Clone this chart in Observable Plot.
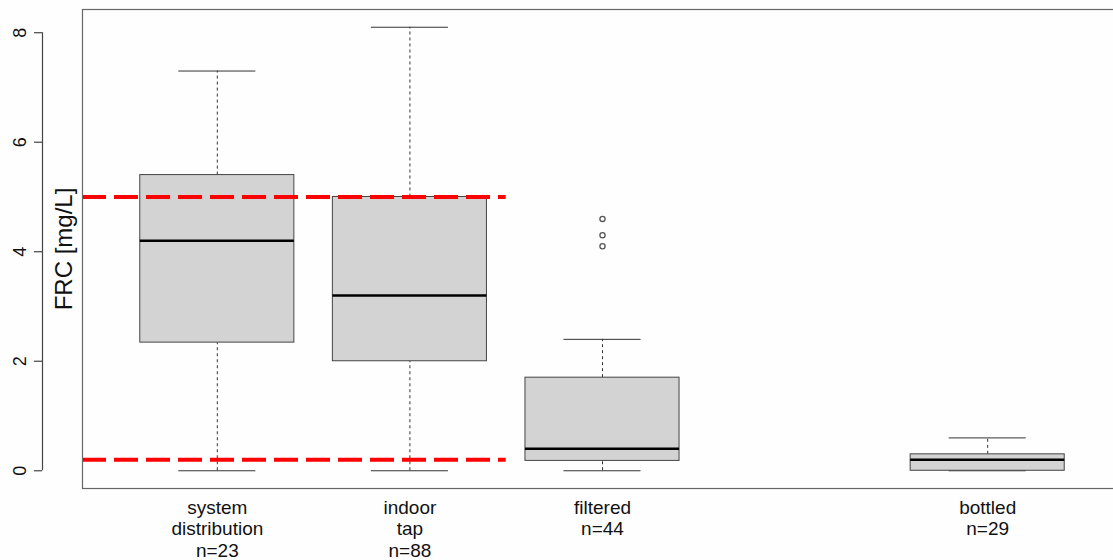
<!DOCTYPE html>
<html>
<head>
<meta charset="utf-8">
<script src="https://cdn.jsdelivr.net/npm/d3@7"></script>
<script src="https://cdn.jsdelivr.net/npm/@observablehq/plot@0.6"></script>
<style>
  html, body { margin: 0; padding: 0; background: #fefefe; }
  #chart svg { display: block; background: #fefefe; }
</style>
</head>
<body>
<div id="chart"></div>
<script>
// ---- data ----
const categories = ["system\ndistribution\nn=23", "indoor\ntap\nn=88", "filtered\nn=44", "bottled\nn=29"];
const positions  = [1, 2, 3, 5];
const whiskerLow  = [0, 0, 0, 0];
const q1          = [2.34, 2.0, 0.18, 0.0];
const median      = [4.2, 3.2, 0.4, 0.2];
const q3          = [5.4, 5.0, 1.7, 0.3];
const whiskerHigh = [7.3, 8.1, 2.4, 0.6];
const outlierPos  = [3, 3, 3];
const outlierVal  = [4.6, 4.3, 4.1];
const limitLines  = [5.0, 0.2];
const limitSpan   = [0.3, 2.5];
const yTicks      = [0, 2, 4, 6, 8];
const yTitle      = "FRC [mg/L]";
const xDomain     = [0.3, 5.7];
const yDomain     = [-0.324, 8.424];

const boxes = categories.map((c, i) => ({
  label: c, x: positions[i], lo: whiskerLow[i], q1: q1[i], med: median[i], q3: q3[i], hi: whiskerHigh[i]
}));
const outliers = outlierPos.map((p, i) => ({x: p, y: outlierVal[i]}));

const boxHalf = 0.4, capHalf = 0.2;

const chart = Plot.plot({
  width: 1113,
  height: 560,
  marginLeft: 82,
  marginRight: -9,
  marginTop: 9,
  marginBottom: 72,
  style: {fontFamily: "'Liberation Sans', Arial, sans-serif", background: "#fefefe", overflow: "hidden"},
  x: {type: "linear", domain: xDomain, axis: null},
  y: {type: "linear", domain: yDomain, axis: null},
  marks: [
    // whiskers (dashed)
    Plot.ruleX(boxes, {x: "x", y1: "q3", y2: "hi", stroke: "#333", strokeWidth: 1, strokeDasharray: "3,3"}),
    Plot.ruleX(boxes, {x: "x", y1: "lo", y2: "q1", stroke: "#333", strokeWidth: 1, strokeDasharray: "3,3"}),
    // caps
    Plot.ruleY(boxes, {y: "hi", x1: d => d.x - capHalf, x2: d => d.x + capHalf, stroke: "#333", strokeWidth: 1}),
    Plot.ruleY(boxes, {y: "lo", x1: d => d.x - capHalf, x2: d => d.x + capHalf, stroke: "#333", strokeWidth: 1}),
    // boxes
    Plot.rect(boxes, {x1: d => d.x - boxHalf, x2: d => d.x + boxHalf, y1: "q1", y2: "q3", fill: "#d3d3d3", stroke: "#444", strokeWidth: 1}),
    // medians
    Plot.ruleY(boxes, {y: "med", x1: d => d.x - boxHalf, x2: d => d.x + boxHalf, stroke: "#000", strokeWidth: 2.5}),
    // outliers
    Plot.dot(outliers, {x: "x", y: "y", r: 2.6, stroke: "#555", strokeWidth: 1.3, fill: "none"}),
    // red limit lines
    Plot.ruleY(limitLines, {y: d => d, x1: limitSpan[0], x2: limitSpan[1], stroke: "#f00", strokeWidth: 4, strokeDasharray: "24,8"}),
    // frame
    Plot.frame({stroke: "#666", strokeWidth: 1.2}),
    // y axis line & ticks (R style, offset left)
    Plot.ruleX([xDomain[0]], {x: d => d, y1: yTicks[0], y2: yTicks[yTicks.length - 1], dx: -40, stroke: "#444", strokeWidth: 1.2}),
    Plot.axisY({ticks: yTicks, tickSize: 8, dx: -40, tickFormat: () => "", label: null, stroke: "#444", strokeWidth: 1.2}),
    Plot.text(yTicks, {y: d => d, frameAnchor: "left", text: d => String(d), rotate: -90, dx: -62.5, textAnchor: "middle", lineAnchor: "middle", fontSize: 18, fill: "#111"}),
    // y title
    Plot.text([yTitle], {frameAnchor: "left", text: d => d, rotate: -90, dx: -18.5, textAnchor: "middle", lineAnchor: "middle", fontSize: 24, fill: "#111"}),
    // category labels
    Plot.text(boxes, {x: "x", frameAnchor: "bottom", text: "label", lineAnchor: "top", dy: 10, fontSize: 19, lineHeight: 1.13, fill: "#111"})
  ]
});
document.getElementById("chart").append(chart);
</script>
</body>
</html>
